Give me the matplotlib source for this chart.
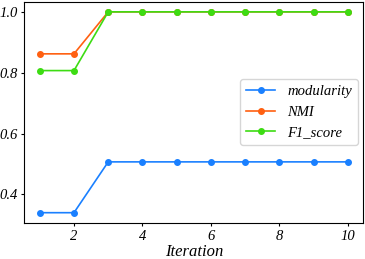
import matplotlib
matplotlib.use("Agg")
import matplotlib.pyplot as plt

iterations = [1, 2, 3, 4, 5, 6, 7, 8, 9, 10]
modularity = [0.34, 0.34, 0.507, 0.507, 0.507, 0.507, 0.507, 0.507, 0.507, 0.507]
nmi = [0.862, 0.862, 1.0, 1.0, 1.0, 1.0, 1.0, 1.0, 1.0, 1.0]
f1_score = [0.807, 0.807, 1.0, 1.0, 1.0, 1.0, 1.0, 1.0, 1.0, 1.0]

plt.rcParams['font.family'] = ['Liberation Serif', 'DejaVu Serif']
plt.rcParams['font.style'] = 'italic'

fig = plt.figure(figsize=(3.65, 2.59), dpi=100)
ax = fig.add_axes([0.0666, 0.140, 0.929, 0.853])
ax.plot(iterations, modularity, marker='o', markersize=4, lw=1.2, color='#1a80ff', label='modularity')
ax.plot(iterations, nmi, marker='o', markersize=4, lw=1.2, color='#ff6011', label='NMI')
ax.plot(iterations, f1_score, marker='o', markersize=4, lw=1.2, color='#3ddc13', label='F1_score')
ax.set_xticks([2, 4, 6, 8, 10])
ax.set_yticks([0.4, 0.6, 0.8, 1.0])
ax.tick_params(labelsize=10.5, length=2.5, pad=2.5)
for lab in ax.get_xticklabels() + ax.get_yticklabels():
    lab.set_fontstyle('italic')
ax.set_xlabel('Iteration', fontsize=12, style='italic', labelpad=1)
ax.legend(loc='center right', prop={'style': 'italic', 'size': 10.5}, borderaxespad=0.4)
fig.savefig('out.png', dpi=100)
